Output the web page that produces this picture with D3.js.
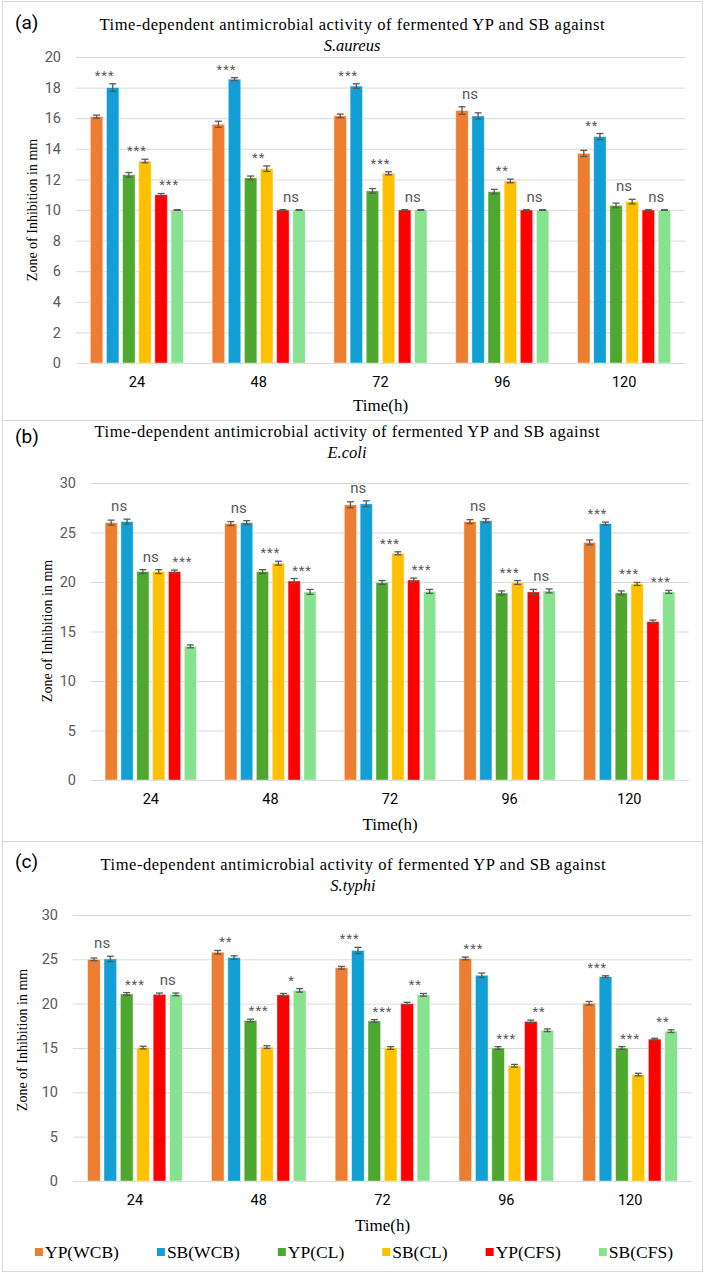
<!DOCTYPE html>
<html>
<head>
<meta charset="utf-8">
<script src="https://cdn.jsdelivr.net/npm/d3@7"></script>
<style>
  body { margin: 0; background: #fff; }
  svg text { font-family: Roboto, "Liberation Sans", sans-serif; }
</style>
</head>
<body>
<div id="chart"></div>
<script>
const times = ["24", "48", "72", "96", "120"];
const series = ["YP(WCB)", "SB(WCB)", "YP(CL)", "SB(CL)", "YP(CFS)", "SB(CFS)"];
const colors = ["#ED7D31", "#129FD6", "#4EA72E", "#FFC000", "#FF0000", "#86E28E"];

// one row per time point, columns follow `series`
const aureusMean = [
  [16.1, 18.0, 12.3, 13.2, 11.0, 10.0],
  [15.6, 18.55, 12.1, 12.7, 10.0, 10.0],
  [16.15, 18.1, 11.25, 12.4, 10.0, 10.0],
  [16.5, 16.15, 11.2, 11.9, 10.0, 10.0],
  [13.7, 14.8, 10.3, 10.55, 10.0, 10.0]
];
const aureusErr = [
  [0.1, 0.25, 0.15, 0.12, 0.08, 0.02],
  [0.2, 0.1, 0.12, 0.18, 0.02, 0.02],
  [0.12, 0.15, 0.15, 0.1, 0.02, 0.02],
  [0.25, 0.2, 0.15, 0.12, 0.02, 0.02],
  [0.2, 0.2, 0.15, 0.15, 0.02, 0.02]
];
const aureusSig = [
  ["***", "***", "***"],
  ["***", "**", "ns"],
  ["***", "***", "ns"],
  ["ns", "**", "ns"],
  ["**", "ns", "ns"]
];

const coliMean = [
  [26.0, 26.1, 21.05, 21.05, 21.05, 13.5],
  [25.9, 26.0, 21.05, 21.9, 20.1, 19.0],
  [27.8, 27.9, 19.95, 22.9, 20.2, 19.05],
  [26.1, 26.2, 18.9, 19.95, 19.0, 19.1],
  [24.0, 25.9, 18.9, 19.8, 16.0, 19.0]
];
const coliErr = [
  [0.25, 0.25, 0.2, 0.2, 0.15, 0.15],
  [0.2, 0.2, 0.2, 0.2, 0.25, 0.25],
  [0.3, 0.3, 0.2, 0.15, 0.2, 0.2],
  [0.2, 0.2, 0.2, 0.2, 0.25, 0.2],
  [0.25, 0.15, 0.2, 0.15, 0.15, 0.15]
];
const coliSig = [
  ["ns", "ns", "***"],
  ["ns", "***", "***"],
  ["ns", "***", "***"],
  ["ns", "***", "ns"],
  ["***", "***", "***"]
];

const typhiMean = [
  [25.0, 25.05, 21.1, 15.05, 21.05, 21.05],
  [25.8, 25.2, 18.1, 15.1, 21.0, 21.5],
  [24.05, 26.0, 18.05, 15.0, 20.0, 21.0],
  [25.1, 23.2, 15.0, 13.0, 18.0, 17.0],
  [20.05, 23.05, 15.0, 12.0, 16.0, 16.9]
];
const typhiErr = [
  [0.15, 0.3, 0.15, 0.15, 0.15, 0.15],
  [0.2, 0.2, 0.15, 0.15, 0.15, 0.2],
  [0.15, 0.35, 0.15, 0.15, 0.15, 0.15],
  [0.15, 0.25, 0.15, 0.15, 0.15, 0.15],
  [0.2, 0.1, 0.15, 0.15, 0.1, 0.15]
];
const typhiSig = [
  ["ns", "***", "ns"],
  ["**", "***", "*"],
  ["***", "***", "**"],
  ["***", "***", "**"],
  ["***", "***", "**"]
];

const width = 706, height = 1274;
const serif = '"Liberation Serif", "Times New Roman", serif';

let svg = d3.select('#chart')
  .append('svg')
  .attr('width', width)
  .attr('height', height);

svg.append('rect')
  .attr('width', width)
  .attr('height', height)
  .attr('fill', '#fff');

function drawPanel(p) {
  let g = svg.append('g');

  // panel frame
  g.append('rect')
    .attr('x', 2.5).attr('y', p.box[0] + 0.5)
    .attr('width', 700).attr('height', p.box[1] - p.box[0])
    .attr('fill', 'none')
    .attr('stroke', '#d9d9d9');

  g.append('text')
    .attr('x', 15).attr('y', p.tagY)
    .style('font-size', '19px')
    .text(p.tag);

  g.append('text')
    .attr('x', p.titleX).attr('y', p.titleY)
    .attr('text-anchor', 'middle')
    .attr('textLength', 505)
    .attr('lengthAdjust', 'spacing')
    .style('font-family', serif)
    .style('font-size', '16.5px')
    .text('Time-dependent antimicrobial activity of fermented YP and SB against');

  g.append('text')
    .attr('x', p.titleX).attr('y', p.titleY + 21)
    .attr('text-anchor', 'middle')
    .style('font-family', serif)
    .style('font-size', '16.5px')
    .style('font-style', 'italic')
    .text(p.organism);

  let x0 = d3.scaleBand()
    .domain(times)
    .range(p.xr)
    .paddingInner(0.236)
    .paddingOuter(0.118);

  let x1 = d3.scaleBand()
    .domain(series)
    .range([0, x0.bandwidth()])
    .paddingInner(0.23);

  let y = d3.scaleLinear()
    .domain([0, p.ymax])
    .range(p.yr);

  // grid + y labels
  let yAxis = g.append('g')
    .attr('transform', `translate(${p.xr[0]},0)`)
    .call(d3.axisLeft(y)
      .tickValues(d3.range(0, p.ymax + 0.1, p.ystep))
      .tickSizeInner(-(p.xr[1] - p.xr[0]))
      .tickSizeOuter(0)
      .tickPadding(15));
  yAxis.select('.domain').remove();
  yAxis.selectAll('line').attr('stroke', '#d9d9d9');
  yAxis.selectAll('text')
    .attr('fill', '#595959')
    .style('font-size', '14.5px');

  let xAxis = g.append('g')
    .attr('transform', `translate(0,${p.yr[0]})`)
    .call(d3.axisBottom(x0).tickSize(0).tickPadding(14));
  xAxis.select('.domain').remove();
  xAxis.selectAll('text')
    .attr('fill', '#000')
    .style('font-size', '14.5px');

  let rows = times.map((t, i) => series.map((s, j) => ({
    time: t, s: s, j: j, v: p.means[i][j], e: p.errs[i][j]
  })));

  let groups = g.selectAll('.grp')
    .data(rows)
    .join('g')
    .attr('transform', (d, i) => `translate(${x0(times[i])},0)`);

  groups.selectAll('rect')
    .data(d => d)
    .join('rect')
    .attr('x', d => x1(d.s))
    .attr('y', d => y(d.v))
    .attr('width', x1.bandwidth())
    .attr('height', d => y(0) - y(d.v))
    .attr('fill', d => colors[d.j])
    .attr('stroke', '#fff')
    .attr('stroke-opacity', 0.5)
    .attr('stroke-width', 0.8);

  let eb = groups.selectAll('.eb')
    .data(d => d)
    .join('g')
    .attr('stroke', '#595959')
    .attr('stroke-width', 1.3);
  let cx = d => x1(d.s) + x1.bandwidth() / 2;
  eb.append('line')
    .attr('x1', cx).attr('x2', cx)
    .attr('y1', d => y(d.v - d.e)).attr('y2', d => y(d.v + d.e));
  eb.append('line')
    .attr('x1', d => cx(d) - 3.5).attr('x2', d => cx(d) + 3.5)
    .attr('y1', d => y(d.v + d.e)).attr('y2', d => y(d.v + d.e));
  eb.append('line')
    .attr('x1', d => cx(d) - 3.5).attr('x2', d => cx(d) + 3.5)
    .attr('y1', d => y(d.v - d.e)).attr('y2', d => y(d.v - d.e));

  // significance marks over each pair
  groups.each(function(row, i) {
    p.sig[i].forEach(function(lab, k) {
      let a = row[2 * k], b = row[2 * k + 1];
      let top = y(Math.max(a.v + a.e, b.v + b.e));
      let xm = (x1(a.s) + x1(b.s) + x1.bandwidth()) / 2;
      d3.select(this).append('text')
        .attr('x', xm)
        .attr('y', lab === 'ns' ? top - 8 : top - 4)
        .attr('text-anchor', 'middle')
        .attr('fill', '#595959')
        .style('font-size', lab === 'ns' ? '15px' : '13px')
        .style('letter-spacing', lab === 'ns' ? '0px' : '1px')
        .text(lab);
    }, this);
  });

  g.append('text')
    .attr('transform', `translate(${p.yTitle[0]},${p.yTitle[1]}) rotate(-90)`)
    .attr('text-anchor', 'middle')
    .attr('dy', '0.35em')
    .style('font-family', serif)
    .style('font-size', '14px')
    .text('Zone of Inhibition in mm');

  g.append('text')
    .attr('x', (p.xr[0] + p.xr[1]) / 2)
    .attr('y', p.timeY)
    .attr('text-anchor', 'middle')
    .style('font-family', serif)
    .style('font-size', '17px')
    .text('Time(h)');
}

drawPanel({
  tag: '(a)', organism: 'S.aureus', means: aureusMean, errs: aureusErr, sig: aureusSig,
  box: [1, 420], tagY: 29, titleX: 352, titleY: 30,
  xr: [76, 685], yr: [363, 57], ymax: 20, ystep: 2,
  yTitle: [32, 210], timeY: 411
});

drawPanel({
  tag: '(b)', organism: 'E.coli', means: coliMean, errs: coliErr, sig: coliSig,
  box: [420, 841], tagY: 443, titleX: 347, titleY: 437,
  xr: [91, 689], yr: [780, 483], ymax: 30, ystep: 5,
  yTitle: [47, 631], timeY: 830
});

drawPanel({
  tag: '(c)', organism: 'S.typhi', means: typhiMean, errs: typhiErr, sig: typhiSig,
  box: [841, 1271], tagY: 868, titleX: 353, titleY: 870,
  xr: [73, 692], yr: [1181, 915], ymax: 30, ystep: 5,
  yTitle: [22, 1040], timeY: 1231
});

// legend
let legend = svg.append('g').attr('transform', 'translate(35,1252)');
let lx = 0;
series.forEach(function(s, i) {
  let item = legend.append('g').attr('transform', `translate(${lx},0)`);
  item.append('rect')
    .attr('x', 0).attr('y', -4)
    .attr('width', 8).attr('height', 8)
    .attr('fill', colors[i]);
  let t = item.append('text')
    .attr('x', 10).attr('dy', '0.35em')
    .style('font-family', serif)
    .style('font-size', '17.5px')
    .text(s);
  lx += 10 + t.node().getComputedTextLength() + 38;
});
</script>
</body>
</html>
